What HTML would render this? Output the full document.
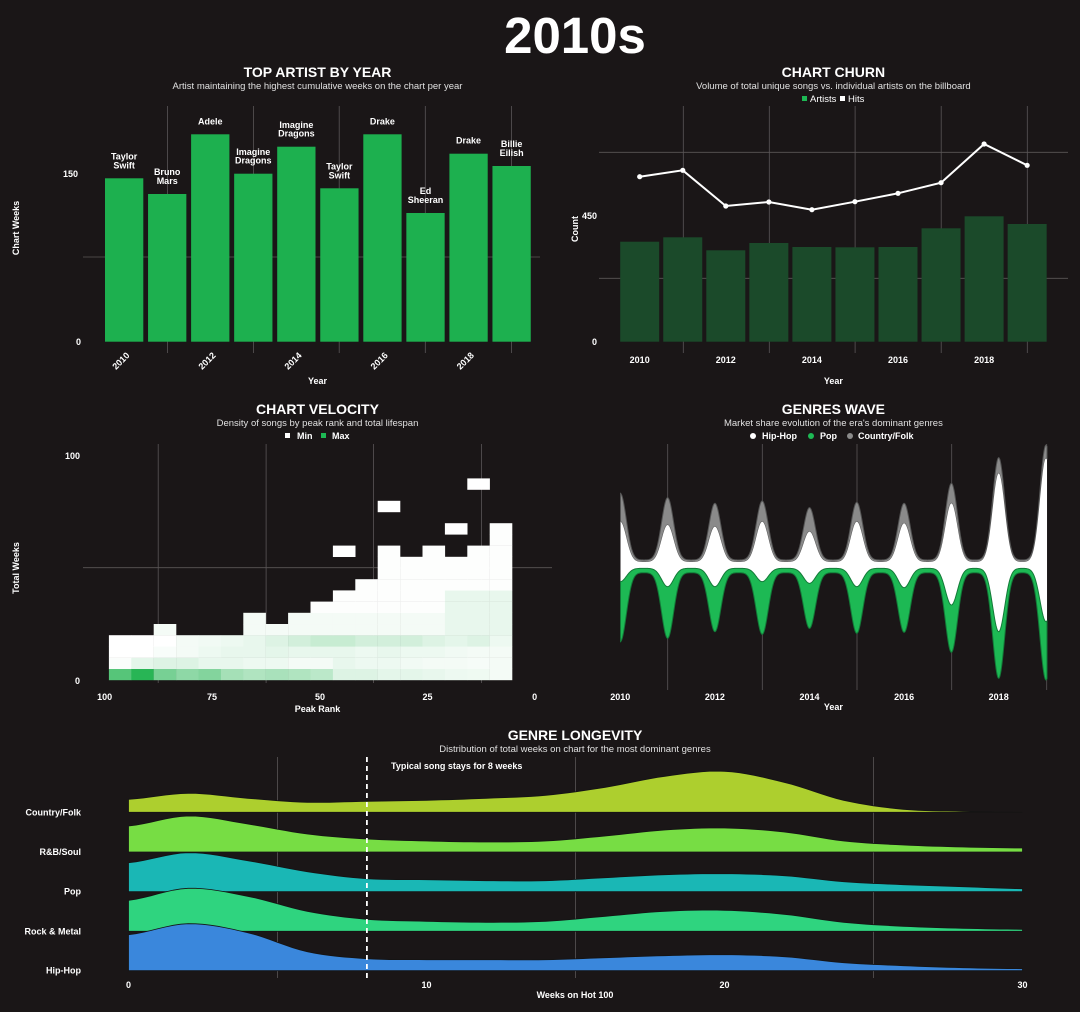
<!DOCTYPE html>
<html><head><meta charset="utf-8"><style>
html,body{margin:0;padding:0;background:#1a1617;}
svg{display:block;font-family:"Liberation Sans",Arial,sans-serif;}
.t{fill:#fff;font-weight:bold;font-size:14px;text-anchor:middle}
.s{fill:#e0e0e0;font-size:9.5px;text-anchor:middle}
.k{fill:#fff;font-weight:bold;font-size:9px}
.g{stroke:#5a5657;stroke-width:0.8}
</style></head><body>
<svg id="sv" width="1080" height="1012" viewBox="0 0 1080 1012" xmlns="http://www.w3.org/2000/svg">
<rect width="1080" height="1012" fill="#1a1617"/>
<text x="575" y="53" text-anchor="middle" fill="#fff" font-weight="bold" font-size="51">2010s</text>

<!-- Panel 1 -->
<text class="t" x="317.5" y="77">TOP ARTIST BY YEAR</text>
<text class="s" x="317.5" y="89">Artist maintaining the highest cumulative weeks on the chart per year</text>
<g id="p1"></g>
<text class="k" x="78" y="177" text-anchor="end">150</text>
<text class="k" x="81" y="345" text-anchor="end">0</text>
<text class="k" x="317.5" y="384" text-anchor="middle">Year</text>
<text class="k" x="19" y="228" text-anchor="middle" transform="rotate(-90 19 228)">Chart Weeks</text>

<!-- Panel 2 -->
<text class="t" x="833.4" y="77">CHART CHURN</text>
<text class="s" x="833.4" y="89">Volume of total unique songs vs. individual artists on the billboard</text>
<rect x="802" y="96" width="5" height="5" fill="#1db954"/>
<text x="810" y="102" fill="#fff" font-size="9.5">Artists</text>
<rect x="840" y="96" width="5" height="5" fill="#fff"/>
<text x="848" y="102" fill="#fff" font-size="9.5">Hits</text>
<g id="p2"></g>
<text class="k" x="597" y="219" text-anchor="end">450</text>
<text class="k" x="597" y="345" text-anchor="end">0</text>
<text class="k" x="833.4" y="384" text-anchor="middle">Year</text>
<text class="k" x="578" y="229" text-anchor="middle" transform="rotate(-90 578 229)">Count</text>

<!-- Panel 3 -->
<text class="t" x="317.5" y="414">CHART VELOCITY</text>
<text class="s" x="317.5" y="426">Density of songs by peak rank and total lifespan</text>
<rect x="285" y="433" width="5" height="5" fill="#fff"/>
<text x="297" y="439" class="k" font-size="9.5">Min</text>
<rect x="321" y="433" width="5" height="5" fill="#1db954"/>
<text x="332" y="439" class="k" font-size="9.5">Max</text>
<g id="p3"></g>
<text class="k" x="80" y="459" text-anchor="end">100</text>
<text class="k" x="80" y="684" text-anchor="end">0</text>
<text class="k" x="317.5" y="712" text-anchor="middle">Peak Rank</text>
<text class="k" x="19" y="568" text-anchor="middle" transform="rotate(-90 19 568)">Total Weeks</text>

<!-- Panel 4 -->
<text class="t" x="833.4" y="414">GENRES WAVE</text>
<text class="s" x="833.4" y="426">Market share evolution of the era's dominant genres</text>
<circle cx="753" cy="436" r="3" fill="#fff"/>
<text x="762" y="439" class="k" font-size="9.5">Hip-Hop</text>
<circle cx="811" cy="436" r="3" fill="#1db954"/>
<text x="820" y="439" class="k" font-size="9.5">Pop</text>
<circle cx="850" cy="436" r="3" fill="#8a8a8a"/>
<text x="858" y="439" class="k" font-size="9.5">Country/Folk</text>
<g id="p4"></g>
<text class="k" x="833.4" y="710" text-anchor="middle">Year</text>

<!-- Panel 5 -->
<text class="t" x="575" y="740">GENRE LONGEVITY</text>
<text class="s" x="575" y="752">Distribution of total weeks on chart for the most dominant genres</text>
<g id="p5"></g>
<text class="k" x="391" y="769" font-size="9.5">Typical song stays for 8 weeks</text>
<text class="k" x="575" y="998" text-anchor="middle" font-size="9.5">Weeks on Hot 100</text>
</svg>
<script>
var NS="http://www.w3.org/2000/svg";
function el(p,tag,a,txt){var e=document.createElementNS(NS,tag);for(var k in a)e.setAttribute(k,a[k]);if(txt!=null)e.textContent=txt;document.getElementById(p).appendChild(e);return e;}
// Panel 1
(function(){
 [167.4,253.5,339.2,425.3,511.4].forEach(function(x){el('p1','line',{x1:x,x2:x,y1:106,y2:353,class:'g'});});
 el('p1','line',{x1:83,x2:540,y1:257,y2:257,class:'g'});
 var tops=[178.3,194,134.3,173.7,146.7,188.3,134.3,213,153.7,166];
 var labs=[["Taylor","Swift"],["Bruno","Mars"],["Adele"],["Imagine","Dragons"],["Imagine","Dragons"],["Taylor","Swift"],["Drake"],["Ed","Sheeran"],["Drake"],["Billie","Eilish"]];
 for(var i=0;i<10;i++){var x=105+43.05*i;el('p1','rect',{x:x,y:tops[i],width:38.3,height:341.7-tops[i],fill:'#1db04f'});
  var cx=x+19.15,L=labs[i];
  for(var j=0;j<L.length;j++){el('p1','text',{x:cx,y:tops[i]-10-(L.length-1-j)*8.8,class:'k','text-anchor':'middle'},L[j]);}
  if(i%2==0){el('p1','text',{x:cx+6,y:356,class:'k','text-anchor':'end',transform:'rotate(-45 '+(cx+6)+' 356)'},2010+i);}
 }
})();
// Panel 2
(function(){
 [683.3,769.3,855.1,941.2,1027.3].forEach(function(x){el('p2','line',{x1:x,x2:x,y1:106,y2:353,class:'g'});});
 [152.3,278.3].forEach(function(y){el('p2','line',{x1:599,x2:1068,y1:y,y2:y,class:'g'});});
 var tops=[241.7,237.3,250.3,243,247,247.3,247,228.3,216.3,224];
 var ly=[176.7,170.3,206,202,209.7,201.7,193.3,182.7,144,165.3];
 var pts=[];
 for(var i=0;i<10;i++){var x=620.2+43.05*i;el('p2','rect',{x:x,y:tops[i],width:39,height:341.7-tops[i],fill:'#1b4a2a'});pts.push((x+19.5)+','+ly[i]);
  if(i%2==0)el('p2','text',{x:x+19.5,y:363,class:'k','text-anchor':'middle'},2010+i);}
 el('p2','polyline',{points:pts.join(' '),fill:'none',stroke:'#fff','stroke-width':2});
 pts.forEach(function(p){var q=p.split(',');el('p2','circle',{cx:q[0],cy:q[1],r:2.6,fill:'#fff'});});
})();
// Panel 3
(function(){
 [158.2,266.1,373.6,481.4].forEach(function(x){el('p3','line',{x1:x,x2:x,y1:444,y2:683,class:'g'});});
 el('p3','line',{x1:83,x2:552,y1:567.7,y2:567.7,class:'g'});
 var H=[4,4,5,4,4,4,6,5,6,7,8,9,12,11,12,11,12,14];
 var r0=[0.75,0.95,0.6,0.5,0.55,0.4,0.35,0.38,0.35,0.3,0.15,0.15,0.12,0.12,0.1,0.08,0.07,0.05];
 var r1=[0.02,0.12,0.15,0.15,0.1,0.1,0.08,0.08,0.05,0.05,0.1,0.08,0.08,0.06,0.05,0.05,0.04,0.05];
 var r2=[0,0,0.03,0.05,0.08,0.1,0.1,0.12,0.1,0.1,0.1,0.08,0.1,0.08,0.08,0.06,0.05,0.05];
 var r3=[0,0,0,0.05,0.06,0.08,0.1,0.15,0.2,0.25,0.25,0.2,0.2,0.2,0.15,0.12,0.15,0.08];
 function col(t){var r=Math.round(255+(29-255)*t),g=Math.round(255+(177-255)*t),b=Math.round(255+(76-255)*t);return 'rgb('+r+','+g+','+b+')';}
 function cell(c,r,t){el('p3','rect',{x:108.9+22.4*c,y:680-11.2*(r+1),width:22.6,height:11.4,fill:col(t)});}
 for(var c=0;c<18;c++){for(var r=0;r<H[c];r++){var t=r==0?r0[c]:r==1?r1[c]:r==2?r2[c]:r==3?r3[c]:(c>14&&r<8?0.1:(r<6?0.05:0.01));cell(c,r,t);}}
 cell(10,11,0);cell(12,15,0);cell(15,13,0);cell(16,17,0);
 [[104.6,'100'],[212,'75'],[320,'50'],[427.5,'25'],[534.6,'0']].forEach(function(a){el('p3','text',{x:a[0],y:700,class:'k','text-anchor':'middle'},a[1]);});
})();
// Panel 4
(function(){
 [667.7,762.3,857,951.7,1046.7].forEach(function(x){el('p4','line',{x1:x,x2:x,y1:444,y2:690,class:'g'});});
 var gT=[295,308,325,318,338,322,325,265,188,150];
 var wT=[380,390,395,380,410,380,385,325,235,190];
 var gB=[740,730,710,718,700,715,712,772,850,855];
 var dp=[560,575,575,560,565,575,578,630,710,680];
 function X(i){return 620.3+47.3*i;}
 function f(x,flat,pk){var v=flat;for(var i=0;i<10;i++){var d=(x-X(i))/8.5;v+=(pk[i]-flat)*Math.exp(-d*d);}return 395+v/3;}
 var xs=[];for(var x=620.5;x<=1047;x+=0.5)xs.push(x);
 function band(top,bot,fill,stroke){var s='M';xs.forEach(function(x,i){s+=(i?' L':'')+x.toFixed(1)+','+top(x).toFixed(2);});for(var i=xs.length-1;i>=0;i--)s+=' L'+xs[i].toFixed(1)+','+bot(xs[i]).toFixed(2);s+='Z';el('p4','path',{d:s,fill:fill,stroke:stroke||'none','stroke-width':1});}
 band(function(x){return f(x,495,gT);},function(x){return f(x,501,wT);},'#8a8a8a','#555');
 band(function(x){return f(x,501,wT);},function(x){return f(x,520,dp);},'#ffffff');
 band(function(x){return f(x,520,dp);},function(x){return f(x,533,gB);},'#1db954','#137a38');
 for(var i=0;i<10;i+=2)el('p4','text',{x:X(i),y:700,class:'k','text-anchor':'middle'},2010+i);
})();
// Panel 5
(function(){
 function WX(w){return 128.5+29.8*w;}
 [5,15,25].forEach(function(w){el('p5','line',{x1:WX(w),x2:WX(w),y1:757,y2:978,class:'g'});});
 var rows=[
  ["Country/Folk",812.3,'#adcf2e',[13,19,14,10,11,12,14,17,25,36,41,30,12,3,1,0]],
  ["R&B/Soul",852,'#77dd44',[26,36,28,18,13,11,10,11,16,22,24,20,11,7,5,4]],
  ["Pop",891.7,'#1ab7b5',[29,39,31,20,13,12,11,11,14,17,18,16,10,7,5,3]],
  ["Rock & Metal",931.3,'#2fd47f',[31,43,35,20,12,10,9,10,15,20,21,17,9,5,3,2]],
  ["Hip-Hop",970.7,'#3a87dc',[36,47,38,19,12,11,11,11,13,15,16,14,8,5,3,2]]];
 rows.forEach(function(r){
  var h=r[3],b=r[1];
  function hv(w){var i=Math.min(14,Math.floor(w/2)),t=(w-2*i)/2;var p0=h[Math.max(0,i-1)],p1=h[i],p2=h[i+1],p3=h[Math.min(15,i+2)];
   var v=0.5*((2*p1)+(-p0+p2)*t+(2*p0-5*p1+4*p2-p3)*t*t+(-p0+3*p1-3*p2+p3)*t*t*t);return Math.max(0,v);}
  var s='M'+WX(0)+','+b;for(var w=0;w<=30.001;w+=0.25){s+=' L'+WX(w).toFixed(1)+','+(b-hv(w)).toFixed(2);}s+=' L'+WX(30)+','+b+'Z';
  el('p5','path',{d:s,fill:r[2],stroke:'#141414','stroke-width':0.8});
  el('p5','text',{x:81,y:b+3,class:'k','text-anchor':'end'},r[0]);
 });
 el('p5','line',{x1:WX(8),x2:WX(8),y1:757,y2:978,stroke:'#fff','stroke-width':1.8,'stroke-dasharray':'5,4'});
 [[0,'0'],[10,'10'],[20,'20'],[30,'30']].forEach(function(a){el('p5','text',{x:WX(a[0]),y:988,class:'k','text-anchor':'middle'},a[1]);});
})();
</script>
</body></html>
